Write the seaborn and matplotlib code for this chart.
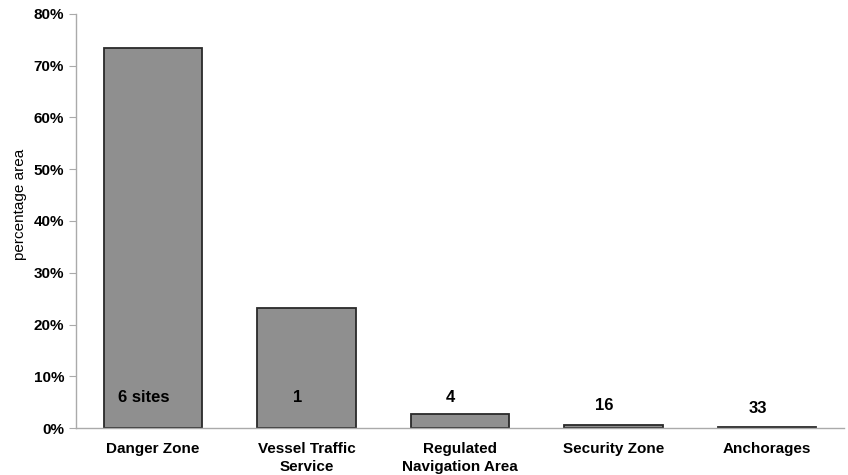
import pandas as pd
import seaborn as sns
import matplotlib.pyplot as plt
from matplotlib.ticker import PercentFormatter, FixedLocator

# data
categories = ['Danger Zone', 'Vessel Traffic\nService', 'Regulated\nNavigation Area',
              'Security Zone', 'Anchorages']
pct_area = [73.5, 23.2, 2.7, 0.5, 0.2]
site_labels = ['6 sites', '1', '4', '16', '33']
label_pos = [5.8, 5.9, 5.9, 4.3, 3.8]

df = pd.DataFrame({'category': categories, 'pct': pct_area})

sns.set_style('white')
plt.rcParams['font.family'] = ['Liberation Sans', 'DejaVu Sans']
plt.rcParams['text.color'] = 'black'
plt.rcParams['xtick.labelcolor'] = 'black'
plt.rcParams['ytick.labelcolor'] = 'black'
plt.rcParams['axes.labelcolor'] = 'black'

fig = plt.figure(figsize=(8.48, 4.75), dpi=100)
ax = fig.add_axes([76 / 848, 47 / 475, 768 / 848, 414 / 475])

sns.barplot(data=df, x='category', y='pct', color='#8f8f8f', saturation=1,
            width=0.64, edgecolor='#2a2a2a', linewidth=1.3, ax=ax)

# site count annotations (sit a little left of bar centre, as in the original)
for i, (txt, y) in enumerate(zip(site_labels, label_pos)):
    ax.text(i - 0.06, y, txt, ha='center', va='center', fontsize=12, fontweight='bold')

ax.set_ylim(0, 80)
ax.set_xlim(-0.5, 4.5)
ax.yaxis.set_major_formatter(PercentFormatter(decimals=0))
ax.set_yticks(range(0, 81, 10))
ax.xaxis.set_minor_locator(FixedLocator([0.5, 1.5, 2.5, 3.5, 4.5]))
ax.tick_params(axis='x', which='major', length=0, pad=10)
ax.tick_params(axis='x', which='minor', length=5, color='#aaaaaa', direction='out')
ax.tick_params(axis='y', length=5, color='#aaaaaa', direction='out', left=True)

for lab in ax.get_xticklabels() + ax.get_yticklabels():
    lab.set_fontweight('bold')
    lab.set_fontsize(11)
for lab in ax.get_xticklabels():
    lab.set_linespacing(1.35)

ax.set_xlabel('')
ax.set_ylabel('percentage area', fontsize=11)
ax.yaxis.set_label_coords(-0.064, 0.541)

for side in ['top', 'right']:
    ax.spines[side].set_visible(False)
for side in ['left', 'bottom']:
    ax.spines[side].set_color('#aaaaaa')
    ax.spines[side].set_linewidth(1)

plt.savefig('out.png', dpi=100)
